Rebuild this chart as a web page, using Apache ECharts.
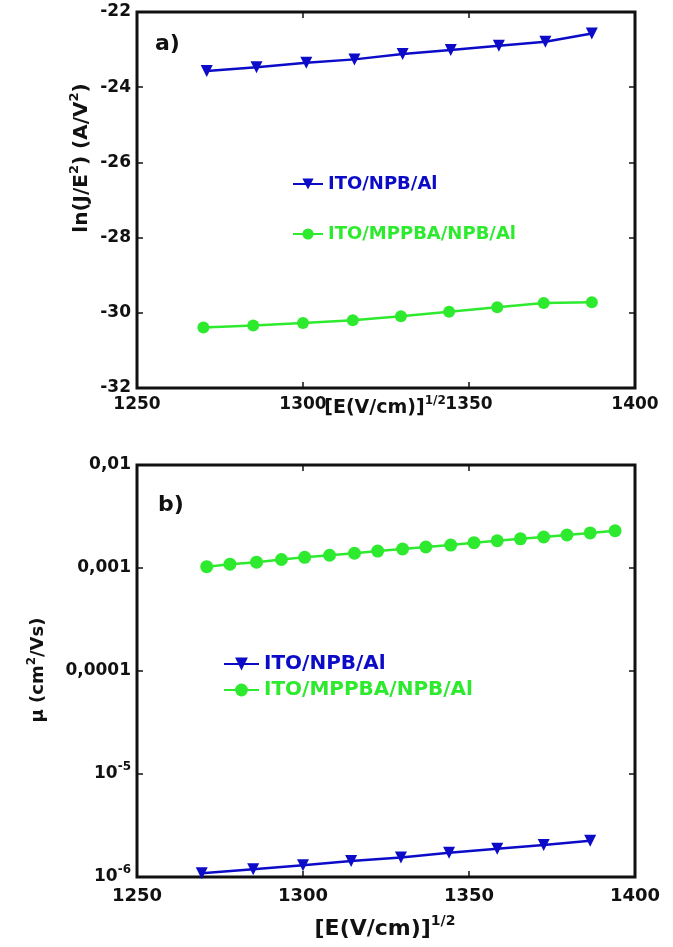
<!DOCTYPE html>
<html><head><meta charset="utf-8">
<script src="https://cdn.jsdelivr.net/npm/echarts@6/dist/echarts.min.js"></script>
<style>html,body{margin:0;padding:0;background:#fff}#c{width:673px;height:947px}</style>
</head><body><div id="c"></div>
<script>
// ---- data ----
const xTicks = [1250, 1300, 1350, 1400];
const topYTicks = [-32, -30, -28, -26, -24, -22];
const seriesNames = ['ITO/NPB/Al', 'ITO/MPPBA/NPB/Al'];
// panel a)
const topBlueX = [1271, 1286, 1301, 1315.5, 1330, 1344.5, 1359, 1373, 1387];
const topBlueY = [-23.57, -23.47, -23.35, -23.26, -23.12, -23.01, -22.90, -22.79, -22.57];
const topGreenX = [1270, 1285, 1300, 1315, 1329.5, 1344, 1358.5, 1372.5, 1387];
const topGreenY = [-30.39, -30.34, -30.27, -30.20, -30.09, -29.97, -29.85, -29.74, -29.72];
// panel b)
const botGreenX = [1271, 1278, 1286, 1293.5, 1300.5, 1308, 1315.5, 1322.5, 1330, 1337, 1344.5, 1351.5, 1358.5, 1365.5, 1372.5, 1379.5, 1386.5, 1394];
const botGreenY = [1.03e-3, 1.09e-3, 1.14e-3, 1.21e-3, 1.27e-3, 1.33e-3, 1.39e-3, 1.46e-3, 1.53e-3, 1.60e-3, 1.67e-3, 1.76e-3, 1.84e-3, 1.92e-3, 2.00e-3, 2.09e-3, 2.19e-3, 2.30e-3];
const botBlueX = [1269.5, 1285, 1300, 1314.5, 1329.5, 1344, 1358.5, 1372.5, 1386.5];
const botBlueY = [1.09e-6, 1.19e-6, 1.30e-6, 1.43e-6, 1.55e-6, 1.72e-6, 1.88e-6, 2.05e-6, 2.25e-6];
const logTickLabels = {'-2': '0,01', '-3': '0,001', '-4': '0,0001', '-5': '{b|10}{s|-5}', '-6': '{b|10}{s|-6}'};

// ---- style ----
const FONT = 'DejaVu Sans';
const BLUE = '#0c0cc8';
const GREEN = '#2eea2e';
const pair = (xs, ys) => xs.map((x, i) => [x, ys[i]]);

const chart = echarts.init(document.getElementById('c'), null, {renderer: 'canvas'});

const tickStyle = {show: true, inside: true, length: 6, lineStyle: {color: '#111', width: 1.5}};
function xAx(grid, pos, labelShow, fs, margin) {
  return {
    type: 'value', gridIndex: grid, position: pos, min: xTicks[0], max: xTicks[xTicks.length - 1], interval: 50,
    axisLine: {show: false}, axisTick: tickStyle, splitLine: {show: false},
    axisLabel: {show: labelShow, color: '#111', fontFamily: FONT, fontWeight: 'bold', fontSize: fs, margin: margin,
      formatter: v => String(v)},
    minorTick: {show: false}
  };
}
const supRich = (fs, sfs, pad) => ({s: {fontFamily: FONT, fontWeight: 'bold', fontSize: sfs, fill: '#111', color: '#111', padding: [0, 0, pad, 0]}});

const option = {
  animation: false,
  backgroundColor: '#fff',
  grid: [
    {left: 137, top: 12, width: 498, height: 376, show: true, borderColor: '#111', borderWidth: 3, backgroundColor: 'transparent'},
    {left: 137, top: 465, width: 498, height: 412, show: true, borderColor: '#111', borderWidth: 3, backgroundColor: 'transparent'}
  ],
  xAxis: [
    xAx(0, 'bottom', true, 17, 8),
    xAx(0, 'top', false, 17, 8),
    xAx(1, 'bottom', true, 18, 10),
    xAx(1, 'top', false, 18, 10)
  ],
  yAxis: [
    {type: 'value', gridIndex: 0, position: 'left', min: topYTicks[0], max: topYTicks[topYTicks.length - 1], interval: 2,
     axisLine: {show: false}, axisTick: tickStyle, splitLine: {show: false},
     axisLabel: {color: '#111', fontFamily: FONT, fontWeight: 'bold', fontSize: 17, margin: 6}},
    {type: 'value', gridIndex: 0, position: 'right', min: topYTicks[0], max: topYTicks[topYTicks.length - 1], interval: 2,
     axisLine: {show: false}, axisTick: tickStyle, splitLine: {show: false}, axisLabel: {show: false}},
    {type: 'log', logBase: 10, gridIndex: 1, position: 'left', min: 1e-6, max: 1e-2,
     axisLine: {show: false}, axisTick: tickStyle, splitLine: {show: false},
     axisLabel: {color: '#111', fontFamily: FONT, fontWeight: 'bold', fontSize: 17, margin: 6,
       formatter: v => logTickLabels[String(Math.round(Math.log10(v)))] || '',
       rich: {b: {fontFamily: FONT, fontWeight: 'bold', fontSize: 17, color: '#111'},
              s: {fontFamily: FONT, fontWeight: 'bold', fontSize: 12, color: '#111', padding: [0, 0, 14, 0]}}}},
    {type: 'log', logBase: 10, gridIndex: 1, position: 'right', min: 1e-6, max: 1e-2,
     axisLine: {show: false}, axisTick: tickStyle, splitLine: {show: false}, axisLabel: {show: false}}
  ],
  legend: [
    {left: 287, top: 170, orient: 'vertical', itemGap: 32, itemWidth: 30, itemHeight: 14,
     textStyle: {fontFamily: FONT, fontWeight: 'bold', fontSize: 18},
     data: [{name: seriesNames[0], textStyle: {color: BLUE}}, {name: seriesNames[1], textStyle: {color: GREEN}}]},
    {left: 218, top: 649, orient: 'vertical', itemGap: 6, itemWidth: 35, itemHeight: 16,
     textStyle: {fontFamily: FONT, fontWeight: 'bold', fontSize: 20},
     data: [{name: seriesNames[0], textStyle: {color: BLUE}}, {name: seriesNames[1], textStyle: {color: GREEN}}]}
  ],
  series: [
    {name: seriesNames[0], type: 'line', xAxisIndex: 0, yAxisIndex: 0, data: pair(topBlueX, topBlueY),
     symbol: 'triangle', symbolRotate: 180, symbolSize: 12, lineStyle: {color: BLUE, width: 2.5}, itemStyle: {color: BLUE}},
    {name: seriesNames[1], type: 'line', xAxisIndex: 0, yAxisIndex: 0, data: pair(topGreenX, topGreenY),
     symbol: 'circle', symbolSize: 12, lineStyle: {color: GREEN, width: 2.5}, itemStyle: {color: GREEN}},
    {name: seriesNames[0], type: 'line', xAxisIndex: 2, yAxisIndex: 2, data: pair(botBlueX, botBlueY),
     symbol: 'triangle', symbolRotate: 180, symbolSize: 12, lineStyle: {color: BLUE, width: 2.5}, itemStyle: {color: BLUE}},
    {name: seriesNames[1], type: 'line', xAxisIndex: 2, yAxisIndex: 2, data: pair(botGreenX, botGreenY),
     symbol: 'circle', symbolSize: 13, lineStyle: {color: GREEN, width: 2.5}, itemStyle: {color: GREEN}}
  ],
  graphic: [
    {type: 'text', left: 155, top: 33, style: {text: 'a)', fontFamily: FONT, fontWeight: 'bold', fontSize: 22, fill: '#111'}},
    {type: 'text', left: 158, top: 494, style: {text: 'b)', fontFamily: FONT, fontWeight: 'bold', fontSize: 22, fill: '#111'}},
    {type: 'text', x: 82, y: 158, rotation: Math.PI / 2,
     style: {text: 'ln(J/E{s|2}) (A/V{s|2})', fontFamily: FONT, fontWeight: 'bold', fontSize: 20, fill: '#111',
       align: 'center', verticalAlign: 'middle', rich: supRich(20, 13, 14)}},
    {type: 'text', x: 38, y: 670, rotation: Math.PI / 2,
     style: {text: 'μ (cm{s|2}/Vs)', fontFamily: FONT, fontWeight: 'bold', fontSize: 18, fill: '#111',
       align: 'center', verticalAlign: 'middle', rich: supRich(18, 12, 13)}},
    {type: 'text', x: 385, y: 408,
     style: {text: '[E(V/cm)]{s|1/2}', fontFamily: FONT, fontWeight: 'bold', fontSize: 19, fill: '#111',
       align: 'center', verticalAlign: 'middle', rich: supRich(19, 12, 14)}},
    {type: 'text', x: 385, y: 929,
     style: {text: '[E(V/cm)]{s|1/2}', fontFamily: FONT, fontWeight: 'bold', fontSize: 22, fill: '#111',
       align: 'center', verticalAlign: 'middle', rich: supRich(22, 14, 16)}}
  ]
};
chart.setOption(option);
</script>
</body></html>
